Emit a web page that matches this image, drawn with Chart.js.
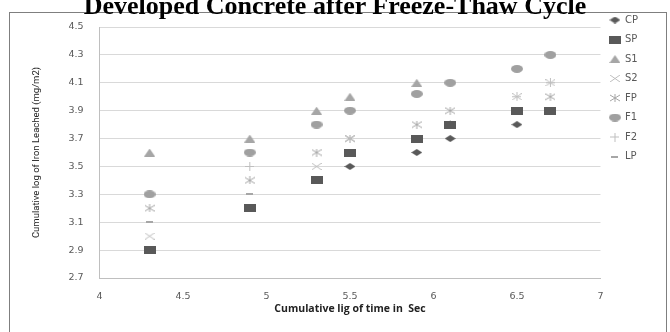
<!DOCTYPE html>
<html>
<head>
<meta charset="utf-8">
<title>Developed Concrete after Freeze-Thaw Cycle</title>
<script src="https://cdn.jsdelivr.net/npm/chart.js@4/dist/chart.umd.min.js"></script>
<style>
  html, body { margin: 0; padding: 0; background: #fff; }
  #wrap { position: relative; width: 670px; height: 332px; overflow: hidden; }
  #title {
    position: absolute; left: 0; top: -7px; width: 670px; text-align: center;
    font-family: 'Liberation Serif', 'Times New Roman', serif; font-weight: bold;
    font-size: 26px; line-height: 26px; color: #000; z-index: 2; white-space: nowrap;
  }
  canvas { position: absolute; left: 0; top: 0; }
</style>
</head>
<body>
<div id="wrap">
  <div id="title">Developed Concrete after Freeze-Thaw Cycle</div>
  <canvas id="chart" width="670" height="332"></canvas>
</div>
<script>
// x positions (cumulative log of time)
const timeLog = [4.3, 4.9, 5.3, 5.5, 5.9, 6.1, 6.5, 6.7];

// cumulative log of iron leached, one array per mix (null = no point)
const cpVals = [null, null, null, 3.5, 3.6, 3.7, 3.8, null];
const spVals = [2.9, 3.2, 3.4, 3.6, 3.7, 3.8, 3.9, 3.9];
const s1Vals = [3.6, 3.7, 3.9, 4.0, 4.1, null, null, null];
const s2Vals = [3.0, null, 3.5, 3.7, null, null, 4.0, 4.1];
const fpVals = [3.2, 3.4, 3.6, 3.7, 3.8, 3.9, null, 4.0];
const f1Vals = [3.3, 3.6, 3.8, 3.9, 4.02, 4.1, 4.2, 4.3];
const f2Vals = [null, 3.5, null, null, null, 3.8, 4.0, 4.1];
const lpVals = [3.1, 3.3, null, null, null, null, 3.9, null];

const seriesNames = ['CP', 'SP', 'S1', 'S2', 'FP', 'F1', 'F2', 'LP'];
const xTicks = [4, 4.5, 5, 5.5, 6, 6.5, 7];
const yTicks = [2.7, 2.9, 3.1, 3.3, 3.5, 3.7, 3.9, 4.1, 4.3, 4.5];

// small canvases used as point markers (the excel ones are a bit wider than tall)
function makeMarker(kind, color) {
  const c = document.createElement('canvas');
  const sizes = { diamond: [11, 7], square: [12, 8], triangle: [11, 8], cross: [10, 7],
    star: [10, 8], ellipse: [12, 8], plus: [9, 9], dash: [7, 2] };
  const [w, h] = sizes[kind];
  c.width = w; c.height = h;
  const ctx = c.getContext('2d');
  ctx.fillStyle = color;
  ctx.strokeStyle = color;
  ctx.lineWidth = 1;
  ctx.beginPath();
  if (kind === 'diamond') {
    ctx.moveTo(w / 2, 0); ctx.lineTo(w, h / 2); ctx.lineTo(w / 2, h); ctx.lineTo(0, h / 2);
    ctx.closePath(); ctx.fill();
  } else if (kind === 'square') {
    ctx.fillRect(0, 0, w, h);
  } else if (kind === 'triangle') {
    ctx.moveTo(w / 2, 0); ctx.lineTo(w, h); ctx.lineTo(0, h); ctx.closePath(); ctx.fill();
  } else if (kind === 'ellipse') {
    ctx.ellipse(w / 2, h / 2, w / 2, h / 2, 0, 0, Math.PI * 2); ctx.fill();
  } else if (kind === 'cross') {
    ctx.moveTo(0, 0); ctx.lineTo(w, h); ctx.moveTo(w, 0); ctx.lineTo(0, h); ctx.stroke();
  } else if (kind === 'star') {
    ctx.moveTo(0, 1); ctx.lineTo(w, h - 1); ctx.moveTo(w, 1); ctx.lineTo(0, h - 1);
    ctx.moveTo(w / 2, 0); ctx.lineTo(w / 2, h); ctx.stroke();
  } else if (kind === 'plus') {
    ctx.moveTo(w / 2, 0); ctx.lineTo(w / 2, h); ctx.moveTo(0, h / 2); ctx.lineTo(w, h / 2); ctx.stroke();
  } else if (kind === 'dash') {
    ctx.fillRect(0, 0, w, h);
  }
  return c;
}

const markerKinds = ['diamond', 'square', 'triangle', 'cross', 'star', 'ellipse', 'plus', 'dash'];
const markerColors = ['#595959', '#595959', '#a6a6a6', '#bfbfbf', '#a6a6a6', '#a0a0a0', '#bfbfbf', '#a6a6a6'];
const allVals = [cpVals, spVals, s1Vals, s2Vals, fpVals, f1Vals, f2Vals, lpVals];

const datasets = seriesNames.map((name, i) => ({
  label: name,
  data: timeLog.map((x, j) => ({ x: x, y: allVals[i][j] })).filter(p => p.y !== null),
  pointStyle: makeMarker(markerKinds[i], markerColors[i]),
  backgroundColor: markerColors[i],
  borderColor: markerColors[i],
  showLine: false
}));

// outer frame like the excel chart area border
const framePlugin = {
  id: 'frame',
  beforeDraw(chart) {
    const ctx = chart.ctx;
    ctx.save();
    ctx.fillStyle = '#fff';
    ctx.fillRect(0, 0, chart.width, chart.height);
    ctx.strokeStyle = '#7f7f7f';
    ctx.lineWidth = 1;
    ctx.strokeRect(9.5, 12.5, 657, 340);
    ctx.restore();
  }
};

new Chart(document.getElementById('chart'), {
  type: 'scatter',
  data: { datasets: datasets },
  options: {
    responsive: false,
    animation: false,
    layout: { padding: { top: 5.5, left: 20, right: 22, bottom: 17 } },
    plugins: {
      legend: {
        position: 'right',
        align: 'start',
        labels: {
          usePointStyle: true,
          padding: 9.5,
          color: '#595959',
          font: { family: 'DejaVu Sans', size: 10 }
        }
      },
      tooltip: { enabled: false }
    },
    scales: {
      x: {
        type: 'linear',
        min: 4, max: 7,
        afterBuildTicks: (scale) => { scale.ticks = xTicks.map(v => ({ value: v })); },
        grid: { display: false, drawTicks: false },
        border: { display: true, color: '#bfbfbf' },
        ticks: {
          color: '#595959', padding: 13, font: { family: 'DejaVu Sans', size: 9.5 },
          callback: (v) => String(v)
        },
        title: {
          display: true, text: 'Cumulative lig of time in  Sec', color: '#222',
          padding: { top: -13, bottom: 0 },
          font: { family: 'Open Sans', size: 10.5, weight: 'bold' }
        }
      },
      y: {
        min: 2.7, max: 4.5,
        afterBuildTicks: (scale) => { scale.ticks = yTicks.map(v => ({ value: v })); },
        afterFit: (scale) => { scale.paddingTop = 27; },
        grid: { color: '#d9d9d9', drawTicks: false },
        border: { display: true, color: '#bfbfbf' },
        ticks: {
          color: '#595959', padding: 16, font: { family: 'DejaVu Sans', size: 9.5 },
          callback: (v) => v.toFixed(1)
        },
        title: {
          display: true, text: 'Cumulative log of Iron Leached (mg/m2)', color: '#222',
          padding: { top: 11, bottom: 10 },
          font: { family: 'Roboto', size: 9.5 }
        }
      }
    }
  },
  plugins: [framePlugin]
});
</script>
</body>
</html>
